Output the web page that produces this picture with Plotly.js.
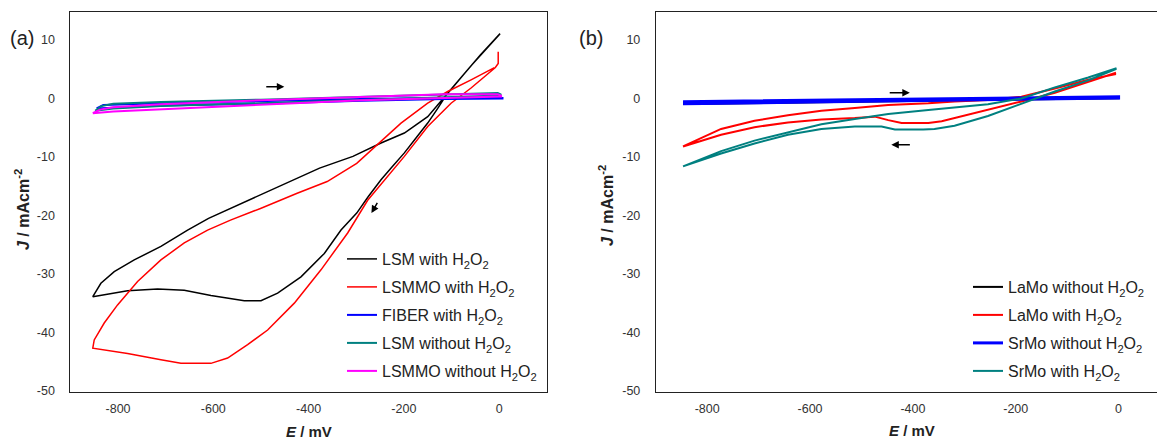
<!DOCTYPE html>
<html>
<head>
<meta charset="utf-8">
<script src="https://cdn.plot.ly/plotly-3.0.1.min.js"></script>
<style>
html,body{margin:0;padding:0;background:#fff;overflow:hidden;width:1157px;height:439px;}
#chart{width:1170px;height:439px;}
</style>
</head>
<body>
<div id="chart"></div>
<script>
// ---------- Panel (a) data (E in mV, J in mA cm^-2) ----------
const aLSMwith_x = [2, -30, -60, -90, -110, -130, -150, -175, -199, -225, -248, -275, -299, -332, -367, -416, -465, -500, -535, -605, -661, -717, -780, -853, -836, -808, -766, -710, -654, -610, -540, -462, -377, -307, -248, -199, -150, -130, -110, -80, -40, 2];
const aLSMwith_y = [11.1, 8.3, 5.5, 2.6, 0.7, -1.8, -4.2, -6.8, -9.3, -11.7, -13.9, -16.8, -19.6, -22.5, -26.5, -30.5, -33.3, -34.6, -34.6, -33.7, -32.8, -32.6, -32.9, -33.9, -31.6, -29.6, -27.6, -25.3, -22.5, -20.5, -17.9, -15.1, -11.9, -9.9, -7.6, -5.9, -3.1, -1.2, 0.8, 3.6, 7.4, 11.1];

const aLSMMOwith_x = [-2, -2, -8, -59, -101, -150, -199, -241, -276, -318, -374, -430, -486, -528, -570, -605, -668, -710, -780, -853, -850, -829, -801, -759, -710, -661, -612, -564, -501, -424, -361, -299, -283, -248, -206, -150, -108, -59, -10];
const aLSMMOwith_y = [8.0, 6.0, 5.3, 1.8, -0.8, -4.8, -9.9, -13.9, -17.4, -23.0, -29.3, -35.0, -39.6, -42.1, -44.4, -45.3, -45.3, -44.7, -43.6, -42.7, -41.3, -38.4, -35.3, -31.3, -27.6, -24.7, -22.5, -20.8, -18.8, -16.2, -14.2, -11.1, -9.9, -7.4, -4.2, -0.8, 1.2, 3.2, 5.3];

const aFIBERwith_x = [-845, -831, -710, -500, -290, -115, 7, 7, -115, -290, -500, -710, -845];
const aFIBERwith_y = [-1.7, -1.1, -0.8, -0.4, -0.1, 0.1, 0.1, 0.0, -0.1, -0.4, -0.9, -1.2, -1.7];

const aLSMwithout_x = [-848, -835, -810, -710, -500, -290, -115, -3, 3, 3, -115, -290, -500, -710, -810, -848];
const aLSMwithout_y = [-2.1, -1.3, -0.9, -0.6, -0.2, 0.3, 0.8, 0.95, 0.7, 0.5, 0.2, -0.3, -0.8, -1.3, -1.7, -2.1];

const aLSMMOwithout_x = [-853, -838, -810, -710, -500, -290, -115, -3, 4, 4, -115, -290, -430, -640, -810, -853];
const aLSMMOwithout_y = [-2.5, -1.9, -1.5, -0.96, -0.3, 0.2, 0.74, 0.74, 0.5, 0.35, 0.1, -0.3, -0.8, -1.54, -2.2, -2.5];

// ---------- Panel (b) data ----------
const bLaMowithout_x = [-847, -600, -400, -200, 0, 0, -200, -400, -600, -847];
const bLaMowithout_y = [-0.65, -0.4, -0.15, 0.05, 0.2, 0.05, -0.2, -0.45, -0.7, -0.95];

const bLaMowith_x = [-5, -59, -124, -189, -254, -319, -344, -370, -422, -448, -474, -513, -578, -643, -708, -773, -847, -773, -708, -643, -578, -513, -448, -370, -319, -254, -189, -124, -59, -5];
const bLaMowith_y = [4.4, 2.9, 1.0, -0.5, -1.9, -3.4, -3.9, -4.2, -4.2, -3.7, -3.1, -3.35, -3.6, -4.1, -4.9, -6.2, -8.2, -5.2, -3.8, -2.85, -2.1, -1.64, -1.1, -0.8, -0.5, -0.25, 0.3, 1.7, 3.2, 4.2];

const bSrMowithout_x = [-847, -600, -400, -200, 0, 0, -200, -400, -600, -847];
const bSrMowithout_y = [-0.55, -0.3, -0.05, 0.15, 0.3, 0.1, -0.1, -0.35, -0.6, -0.9];

const bSrMowith_x = [-4, -59, -124, -189, -254, -319, -358, -380, -435, -461, -513, -578, -643, -708, -773, -847, -773, -708, -643, -578, -513, -448, -370, -319, -254, -189, -124, -59, -4];
const bSrMowith_y = [5.1, 3.1, 1.2, -0.96, -3.0, -4.65, -5.2, -5.3, -5.3, -4.8, -4.8, -5.2, -6.2, -7.7, -9.4, -11.6, -9.0, -7.2, -5.8, -4.4, -3.52, -2.66, -1.98, -1.5, -0.96, 0.0, 1.9, 3.6, 5.2];

// ---------- Labels ----------
const xTicks = [-800, -600, -400, -200, 0];
const yTicks = [-50, -40, -30, -20, -10, 0, 10];
const namesA = ['LSM with H<sub>2</sub>O<sub>2</sub>', 'LSMMO with H<sub>2</sub>O<sub>2</sub>', 'FIBER with H<sub>2</sub>O<sub>2</sub>', 'LSM without H<sub>2</sub>O<sub>2</sub>', 'LSMMO without H<sub>2</sub>O<sub>2</sub>'];
const namesB = ['LaMo without H<sub>2</sub>O<sub>2</sub>', 'LaMo with H<sub>2</sub>O<sub>2</sub>', 'SrMo without H<sub>2</sub>O<sub>2</sub>', 'SrMo with H<sub>2</sub>O<sub>2</sub>'];

const FONT = 'Arial, "Liberation Sans", sans-serif';
const W = 1170, H = 439, T = 12, B = 47;
const px = v => v / W;
const py = v => (H - B - v) / (H - T - B);

function tr(x, y, name, color, width, xa, ya, leg, grp) {
  return {x: x, y: y, name: name, type: 'scatter', mode: 'lines',
    line: {color: color, width: width}, xaxis: xa, yaxis: ya, legend: leg, legendgroup: grp, hoverinfo: 'skip'};
}

const data = [
  tr(aLSMwith_x, aLSMwith_y, namesA[0], '#000000', 1.5, 'x', 'y', 'legend', 'a1'),
  tr(aLSMMOwith_x, aLSMMOwith_y, namesA[1], '#ff0000', 1.5, 'x', 'y', 'legend', 'a2'),
  tr(aFIBERwith_x, aFIBERwith_y, namesA[2], '#0000ff', 2, 'x', 'y', 'legend', 'a3'),
  tr(aLSMwithout_x, aLSMwithout_y, namesA[3], '#008080', 2, 'x', 'y', 'legend', 'a4'),
  tr(aLSMMOwithout_x, aLSMMOwithout_y, namesA[4], '#ff00ff', 2, 'x', 'y', 'legend', 'a5'),
  tr(bLaMowithout_x, bLaMowithout_y, namesB[0], '#000000', 2, 'x2', 'y2', 'legend2', 'b1'),
  tr(bLaMowith_x, bLaMowith_y, namesB[1], '#ff0000', 2, 'x2', 'y2', 'legend2', 'b2'),
  tr(bSrMowithout_x, bSrMowithout_y, namesB[2], '#0000ff', 3, 'x2', 'y2', 'legend2', 'b3'),
  tr(bSrMowith_x, bSrMowith_y, namesB[3], '#008080', 2, 'x2', 'y2', 'legend2', 'b4')
];

function xax(dom, anchor) {
  return {domain: dom, anchor: anchor, range: [-900, 100], tickvals: xTicks, ticktext: xTicks.map(String),
    showgrid: false, zeroline: false, showline: true, mirror: true, linecolor: '#222', linewidth: 1,
    ticks: 'outside', ticklen: 5, tickcolor: 'rgba(0,0,0,0)', tickfont: {family: FONT, size: 12.5, color: '#333'}};
}
function yax(anchor) {
  return {domain: [0, 1], anchor: anchor, range: [-50.2, 14.8], tickvals: yTicks, ticktext: yTicks.map(String),
    showgrid: false, zeroline: false, showline: true, mirror: true, linecolor: '#222', linewidth: 1,
    ticks: 'outside', ticklen: 12, tickcolor: 'rgba(0,0,0,0)', tickfont: {family: FONT, size: 12.5, color: '#333'}};
}

function arrow(xr, yr, x0, y0, x1, y1) {
  return {xref: xr, yref: yr, axref: xr, ayref: yr, x: x1, y: y1, ax: x0, ay: y0, text: '',
    showarrow: true, arrowhead: 2, arrowsize: 1, arrowwidth: 1.5, arrowcolor: '#000', standoff: 0, startstandoff: 0};
}
function label(text, x, y, size, angle) {
  return {xref: 'paper', yref: 'paper', x: px(x), y: py(y), xanchor: 'center', yanchor: 'middle',
    text: text, showarrow: false, textangle: angle || 0, font: {family: FONT, size: size, color: '#222'}};
}

const layout = {
  width: W, height: H,
  margin: {l: 0, r: 0, t: T, b: B},
  paper_bgcolor: '#fff', plot_bgcolor: '#fff',
  font: {family: FONT, color: '#222'},
  xaxis: xax([px(70.4), px(546.8)], 'y'),
  yaxis: yax('x'),
  xaxis2: xax([px(655.8), 1], 'y2'),
  yaxis2: yax('x2'),
  legend: {x: px(342), y: py(242), xanchor: 'left', yanchor: 'top', bgcolor: 'rgba(0,0,0,0)',
    font: {family: FONT, size: 16, color: '#222'}, tracegroupgap: 4.2, itemwidth: 30},
  legend2: {x: px(968), y: py(270), xanchor: 'left', yanchor: 'top', bgcolor: 'rgba(0,0,0,0)',
    font: {family: FONT, size: 16, color: '#222'}, tracegroupgap: 4.2, itemwidth: 30},
  showlegend: true,
  annotations: [
    label('(a)', 22, 38, 20),
    label('(b)', 591, 38, 20),
    label('<b><i>J</i> / mAcm<sup>-2</sup></b>', 22, 210, 16, -90),
    label('<b><i>J</i> / mAcm<sup>-2</sup></b>', 606, 206, 16, -90),
    label('<b><i>E</i> / mV</b>', 308.6, 431, 15),
    label('<b><i>E</i> / mV</b>', 912, 430, 15),
    arrow('x', 'y', -492, 2.0, -451, 2.0),
    arrow('x', 'y', -254, -17.6, -268, -19.6),
    arrow('x2', 'y2', -448, 1.0, -406, 1.0),
    arrow('x2', 'y2', -403, -7.9, -442, -7.9)
  ]
};

Plotly.newPlot('chart', data, layout, {staticPlot: true, displayModeBar: false});
</script>
</body>
</html>
